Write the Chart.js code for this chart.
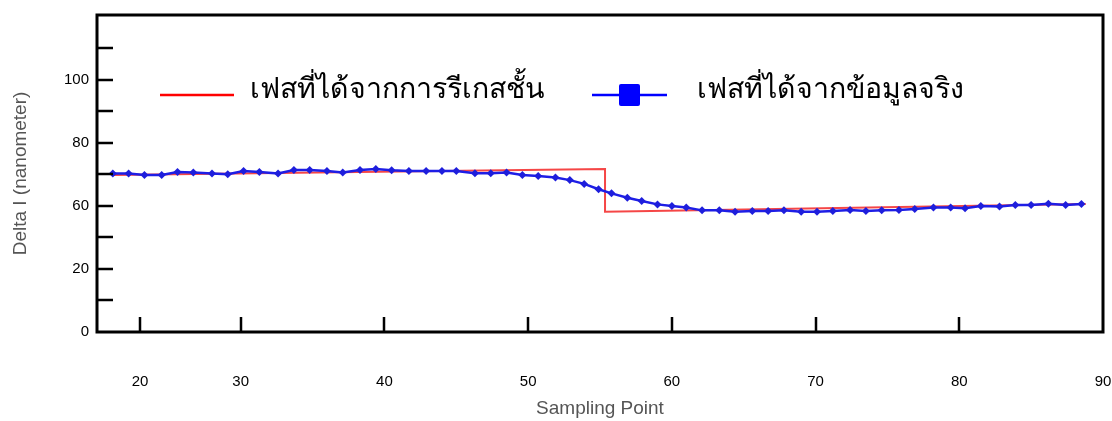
<!DOCTYPE html>
<html>
<head>
<meta charset="utf-8">
<script src="https://cdn.jsdelivr.net/npm/chart.js@4.4.1/dist/chart.umd.min.js"></script>
<style>
  html, body { margin: 0; padding: 0; background: #fff; }
  #wrap { width: 1112px; height: 421px; }
</style>
</head>
<body>
<div id="wrap"><canvas id="phaseChart" width="1112" height="421"></canvas></div>
<script>
// 샘플링 포인트 (x) 와 측정값 (y)
const MEASURED_X = [
    21.1, 22.2, 23.3, 24.5, 25.6, 26.7, 28.0, 29.1, 30.2, 31.3,
    32.6, 33.7, 34.8, 36.0, 37.1, 38.3, 39.4, 40.5, 41.7, 42.9,
    44.0, 45.0, 46.3, 47.4, 48.5, 49.6, 50.7, 51.9, 52.9, 53.9,
    54.9, 55.8, 56.9, 57.9, 59.0, 60.0, 61.0, 62.1, 63.3, 64.4,
    65.6, 66.7, 67.8, 69.0, 70.1, 71.2, 72.4, 73.5, 74.6, 75.8,
    76.9, 78.2, 79.4, 80.4, 81.5, 82.8, 83.9, 85.0, 86.2, 87.4, 88.5
];
const MEASURED_Y = [
    70.3, 70.3, 69.8, 69.8, 70.8, 70.6, 70.3, 70.1, 71.1, 70.8,
    70.3, 71.4, 71.4, 71.1, 70.6, 71.4, 71.7, 71.3, 71.1, 71.1,
    71.1, 71.1, 70.4, 70.4, 70.6, 69.8, 69.5, 69.0, 68.2, 67.0,
    65.3, 64.0, 62.6, 61.6, 60.5, 60.0, 59.5, 58.6, 58.6, 58.2,
    58.4, 58.4, 58.6, 58.2, 58.2, 58.4, 58.7, 58.4, 58.6, 58.7,
    59.0, 59.5, 59.5, 59.3, 60.0, 59.8, 60.3, 60.3, 60.7, 60.3, 60.6
];

// 회귀로 얻은 위상 (계단 모양)
const REGRESSION_X = [21.1, 55.35, 55.35, 88.8];
const REGRESSION_Y = [69.8, 71.7, 58.2, 60.6];

// 범례 라벨
const SERIES_LABELS = ['เฟสที่ได้จากการรีเกสชั้น', 'เฟสที่ได้จากข้อมูลจริง'];

// 축 눈금
const X_TICK_VALUES = [23, 30, 40, 50, 60, 70, 80, 90];
const X_TICK_LABELS = ['20', '30', '40', '50', '60', '70', '80', '90'];
const Y_TICK_VALUES = [20, 30, 40, 50, 60, 70, 80, 90, 100, 110];
const Y_TICK_LABELS = ['0', '', '20', '', '60', '', '80', '', '100', ''];

const toPoints = (xs, ys) => xs.map((x, i) => ({ x: x, y: ys[i] }));

/**
 * 테두리 박스와 안쪽으로 향한 눈금을 그리는 플러그인
 */
const framePlugin = {
    id: 'frame',
    afterDraw(chart) {
        const { ctx, chartArea: a, scales } = chart;
        ctx.save();
        ctx.strokeStyle = '#000';
        ctx.lineWidth = 3;
        ctx.beginPath();
        ctx.rect(a.left, a.top, a.right - a.left, a.bottom - a.top);
        ctx.stroke();

        ctx.lineWidth = 2.5;
        ctx.beginPath();
        Y_TICK_VALUES.slice(1).forEach(v => {
            const y = Math.round(scales.y.getPixelForValue(v));
            ctx.moveTo(a.left, y);
            ctx.lineTo(a.left + 16, y);
        });
        X_TICK_VALUES.slice(0, -1).forEach(v => {
            const x = Math.round(scales.x.getPixelForValue(v));
            ctx.moveTo(x, a.bottom);
            ctx.lineTo(x, a.bottom - 15);
        });
        ctx.stroke();
        ctx.restore();
    }
};

/**
 * 플롯 안쪽에 범례를 그리는 플러그인
 */
const legendPlugin = {
    id: 'innerLegend',
    afterDraw(chart) {
        const { ctx } = chart;
        const ds = chart.data.datasets;
        ctx.save();
        ctx.font = '28.5px "Noto Sans", "DejaVu Sans", sans-serif';
        ctx.fillStyle = '#000';
        ctx.textBaseline = 'alphabetic';

        // 회귀선
        ctx.strokeStyle = '#ff0000';
        ctx.lineWidth = 2.5;
        ctx.beginPath();
        ctx.moveTo(160, 95);
        ctx.lineTo(234, 95);
        ctx.stroke();
        ctx.fillText(ds[0].label, 250, 98);

        // 측정값
        ctx.strokeStyle = '#0000ff';
        ctx.beginPath();
        ctx.moveTo(592, 95);
        ctx.lineTo(667, 95);
        ctx.stroke();
        ctx.fillStyle = '#0000ff';
        ctx.beginPath();
        ctx.roundRect(619, 84, 21, 22, 2);
        ctx.fill();
        ctx.fillStyle = '#000';
        ctx.fillText(ds[1].label, 697, 98);
        ctx.restore();
    }
};

const titleFont = { family: '"Liberation Sans", Arial, sans-serif', size: 19 };
const tickFont = { family: '"Liberation Sans", Arial, sans-serif', size: 15 };

new Chart(document.getElementById('phaseChart'), {
    type: 'line',
    data: {
        datasets: [
            {
                label: SERIES_LABELS[0],
                data: toPoints(REGRESSION_X, REGRESSION_Y),
                borderColor: 'rgb(245, 70, 70)',
                borderWidth: 2,
                pointRadius: 0,
                tension: 0,
                order: 2
            },
            {
                label: SERIES_LABELS[1],
                data: toPoints(MEASURED_X, MEASURED_Y),
                borderColor: 'rgb(30, 30, 230)',
                backgroundColor: 'rgb(30, 30, 220)',
                borderWidth: 2.5,
                pointStyle: 'rectRot',
                pointRadius: 4,
                pointBorderWidth: 0,
                tension: 0,
                order: 1
            }
        ]
    },
    options: {
        responsive: false,
        animation: false,
        devicePixelRatio: 1,
        layout: { padding: { top: 15, right: 9, left: 0, bottom: 0 } },
        plugins: {
            legend: { display: false },
            tooltip: { enabled: false }
        },
        scales: {
            x: {
                type: 'linear',
                min: 20,
                max: 90,
                grid: { display: false, drawTicks: false },
                border: { display: false },
                afterBuildTicks: (scale) => { scale.ticks = X_TICK_VALUES.map(v => ({ value: v })); },
                afterFit: (scale) => {
                    scale.height = 89;
                    scale.paddingLeft = 0;
                    scale.paddingRight = 0;
                },
                ticks: {
                    padding: 41,
                    color: '#000',
                    font: tickFont,
                    maxRotation: 0,
                    callback: (v) => X_TICK_LABELS[X_TICK_VALUES.indexOf(v)]
                },
                title: {
                    display: true,
                    text: 'Sampling Point',
                    color: '#555',
                    font: titleFont,
                    padding: { top: 0, bottom: 1 }
                }
            },
            y: {
                type: 'linear',
                min: 20,
                max: 120.6,
                grid: { display: false, drawTicks: false },
                border: { display: false },
                afterBuildTicks: (scale) => { scale.ticks = Y_TICK_VALUES.map(v => ({ value: v })); },
                afterFit: (scale) => {
                    scale.width = 97;
                    scale.paddingTop = 0;
                    scale.paddingBottom = 0;
                },
                ticks: {
                    padding: 8,
                    color: '#000',
                    font: tickFont,
                    callback: (v) => Y_TICK_LABELS[Y_TICK_VALUES.indexOf(v)]
                },
                title: {
                    display: true,
                    text: 'Delta I (nanometer)',
                    color: '#555',
                    font: titleFont,
                    padding: { top: 9, bottom: 0 }
                }
            }
        }
    },
    plugins: [framePlugin, legendPlugin]
});
</script>
</body>
</html>
